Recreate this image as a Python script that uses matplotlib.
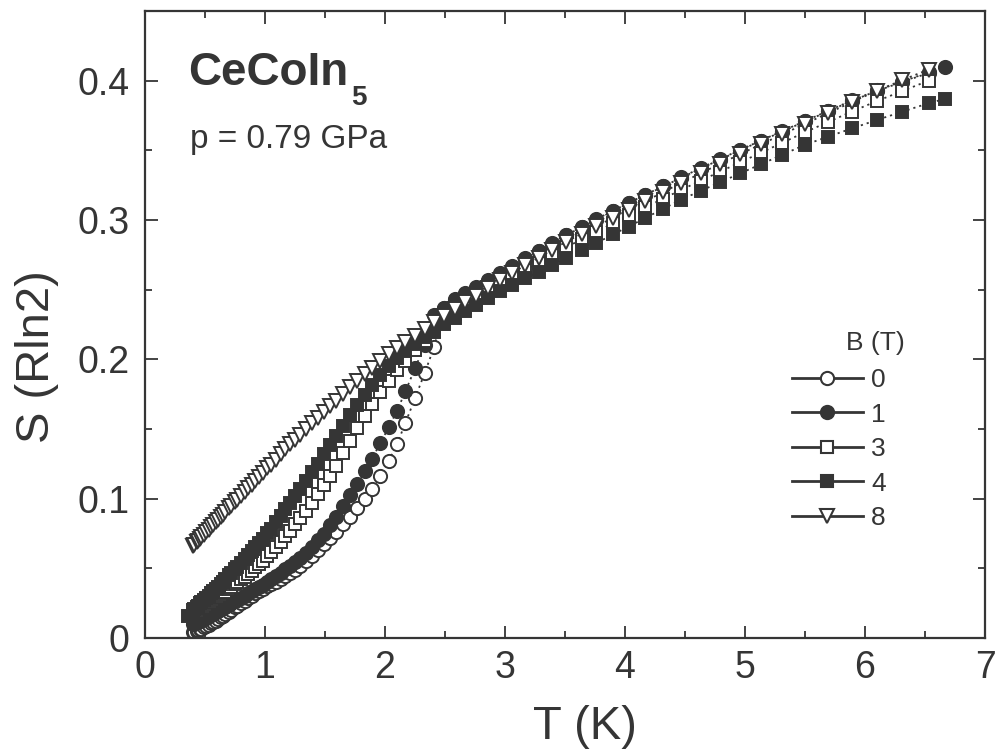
import matplotlib
matplotlib.use("Agg")
import matplotlib.pyplot as plt
from matplotlib.lines import Line2D

plt.rcParams['font.family'] = ['Liberation Sans', 'DejaVu Sans']

# temperature grid (K) shared by the curves
T = [0.40, 0.41, 0.43, 0.44, 0.46, 0.47, 0.49, 0.51, 0.53, 0.55, 0.57, 0.59, 0.61, 0.63,
     0.65, 0.67, 0.70, 0.72, 0.75, 0.77, 0.80, 0.83, 0.86, 0.89, 0.92, 0.95, 0.98, 1.02,
     1.05, 1.09, 1.13, 1.17, 1.21, 1.25, 1.29, 1.34, 1.39, 1.44, 1.49, 1.54, 1.59, 1.65,
     1.71, 1.77, 1.83, 1.89, 1.96, 2.03, 2.10, 2.17, 2.25, 2.33, 2.41, 2.49, 2.58, 2.67,
     2.76, 2.86, 2.96, 3.06, 3.17, 3.28, 3.39, 3.51, 3.64, 3.76, 3.90, 4.03, 4.17, 4.32,
     4.47, 4.63, 4.79, 4.96, 5.13, 5.31, 5.50, 5.69, 5.89, 6.10, 6.31, 6.53]
T_B0 = T
T_B1 = T + [6.67]
T_B3 = T
T_B4 = [0.36] + T + [6.67]
T_B8 = T

# entropy S (R ln2)
S_B0 = [0.0040, 0.0044, 0.0052, 0.0056, 0.0064, 0.0068, 0.0076, 0.0085, 0.0095, 0.0105,
        0.0115, 0.0125, 0.0136, 0.0148, 0.0160, 0.0172, 0.0190, 0.0202, 0.0220, 0.0232,
        0.0250, 0.0268, 0.0286, 0.0304, 0.0320, 0.0335, 0.0350, 0.0370, 0.0385, 0.0405,
        0.0425, 0.0445, 0.0466, 0.0490, 0.0514, 0.0552, 0.0592, 0.0632, 0.0672, 0.0716,
        0.0761, 0.0815, 0.0870, 0.0930, 0.0996, 0.1068, 0.1164, 0.1271, 0.1390, 0.1544,
        0.1720, 0.1900, 0.2090, 0.2365, 0.2425, 0.2470, 0.2515, 0.2565, 0.2615, 0.2665,
        0.2720, 0.2775, 0.2830, 0.2890, 0.2950, 0.3003, 0.3063, 0.3120, 0.3178, 0.3241,
        0.3304, 0.3369, 0.3433, 0.3501, 0.3566, 0.3635, 0.3707, 0.3779, 0.3855, 0.3927,
        0.3990, 0.4055]
S_B1 = [0.0100, 0.0104, 0.0112, 0.0116, 0.0124, 0.0128, 0.0136, 0.0145, 0.0155, 0.0165,
        0.0175, 0.0185, 0.0195, 0.0205, 0.0215, 0.0225, 0.0240, 0.0250, 0.0265, 0.0275,
        0.0290, 0.0305, 0.0320, 0.0335, 0.0350, 0.0365, 0.0380, 0.0402, 0.0420, 0.0444,
        0.0468, 0.0492, 0.0517, 0.0545, 0.0573, 0.0612, 0.0652, 0.0700, 0.0750, 0.0808,
        0.0868, 0.0945, 0.1024, 0.1108, 0.1195, 0.1285, 0.1396, 0.1511, 0.1630, 0.1770,
        0.1935, 0.2100, 0.2320, 0.2370, 0.2430, 0.2475, 0.2520, 0.2570, 0.2620, 0.2670,
        0.2725, 0.2780, 0.2835, 0.2894, 0.2953, 0.3006, 0.3066, 0.3123, 0.3181, 0.3244,
        0.3307, 0.3372, 0.3436, 0.3504, 0.3569, 0.3638, 0.3710, 0.3782, 0.3858, 0.3930,
        0.3993, 0.4060, 0.4100]
S_B3 = [0.0170, 0.0176, 0.0188, 0.0194, 0.0206, 0.0212, 0.0224, 0.0236, 0.0248, 0.0260,
        0.0272, 0.0284, 0.0296, 0.0308, 0.0320, 0.0332, 0.0350, 0.0364, 0.0385, 0.0399,
        0.0420, 0.0441, 0.0462, 0.0483, 0.0506, 0.0530, 0.0554, 0.0588, 0.0615, 0.0651,
        0.0690, 0.0730, 0.0771, 0.0815, 0.0859, 0.0914, 0.0969, 0.1032, 0.1097, 0.1166,
        0.1236, 0.1325, 0.1415, 0.1505, 0.1592, 0.1676, 0.1762, 0.1843, 0.1920, 0.1990,
        0.2065, 0.2134, 0.2198, 0.2262, 0.2326, 0.2379, 0.2428, 0.2483, 0.2538, 0.2589,
        0.2642, 0.2694, 0.2747, 0.2804, 0.2862, 0.2914, 0.2976, 0.3033, 0.3091, 0.3154,
        0.3217, 0.3282, 0.3346, 0.3414, 0.3482, 0.3554, 0.3630, 0.3702, 0.3778, 0.3854,
        0.3925, 0.4000]
S_B4 = [0.0160,
        0.0200, 0.0208, 0.0224, 0.0232, 0.0248, 0.0256, 0.0272, 0.0288, 0.0304, 0.0320,
        0.0336, 0.0352, 0.0369, 0.0387, 0.0405, 0.0423, 0.0450, 0.0468, 0.0495, 0.0513,
        0.0540, 0.0567, 0.0594, 0.0621, 0.0650, 0.0680, 0.0710, 0.0752, 0.0785, 0.0829,
        0.0876, 0.0924, 0.0972, 0.1020, 0.1068, 0.1128, 0.1188, 0.1252, 0.1317, 0.1382,
        0.1447, 0.1525, 0.1602, 0.1674, 0.1746, 0.1818, 0.1890, 0.1954, 0.2010, 0.2059,
        0.2110, 0.2158, 0.2206, 0.2250, 0.2299, 0.2345, 0.2390, 0.2440, 0.2490, 0.2535,
        0.2581, 0.2628, 0.2674, 0.2724, 0.2782, 0.2834, 0.2896, 0.2953, 0.3015, 0.3081,
        0.3147, 0.3209, 0.3270, 0.3335, 0.3399, 0.3468, 0.3540, 0.3597, 0.3657, 0.3718,
        0.3777, 0.3838, 0.3870]
S_B8 = [0.0660, 0.0669, 0.0687, 0.0696, 0.0714, 0.0723, 0.0741, 0.0759, 0.0777, 0.0795,
        0.0813, 0.0831, 0.0849, 0.0867, 0.0885, 0.0903, 0.0930, 0.0948, 0.0975, 0.0993,
        0.1020, 0.1047, 0.1074, 0.1101, 0.1128, 0.1155, 0.1182, 0.1218, 0.1245, 0.1281,
        0.1317, 0.1353, 0.1389, 0.1423, 0.1457, 0.1499, 0.1542, 0.1582, 0.1622, 0.1662,
        0.1702, 0.1750, 0.1798, 0.1846, 0.1893, 0.1938, 0.1990, 0.2038, 0.2080, 0.2122,
        0.2170, 0.2218, 0.2265, 0.2310, 0.2359, 0.2409, 0.2458, 0.2513, 0.2568, 0.2620,
        0.2675, 0.2730, 0.2785, 0.2844, 0.2902, 0.2954, 0.3016, 0.3073, 0.3135, 0.3201,
        0.3267, 0.3335, 0.3402, 0.3473, 0.3542, 0.3614, 0.3690, 0.3766, 0.3846, 0.3928,
        0.4004, 0.4080]

fields = ['0', '1', '3', '4', '8']
c = '#353535'

fig = plt.figure(figsize=(9.99, 7.51), dpi=100)
ax = fig.add_axes([145/999, 113/751, 840/999, 627/751])

# (T, S, marker, face colour)
series = [(T_B0, S_B0, 'o', 'white'),
          (T_B1, S_B1, 'o', c),
          (T_B3, S_B3, 's', 'white'),
          (T_B4, S_B4, 's', c),
          (T_B8, S_B8, 'v', 'white')]
ms = {'o': 9.5, 's': 9.0, 'v': 10.5}

handles = []
for (tt, ss, m, fc), lab in zip(series, fields):
    ax.plot(tt, ss, ls=(0, (1.2, 2.2)), lw=1.3, color=c, marker=m, ms=ms[m],
            mfc=fc, mec=c, mew=1.4)
    handles.append(Line2D([], [], color=c, lw=2, marker=m, ms=ms[m], mfc=fc,
                          mec=c, mew=1.5, label=lab))

ax.set_xlim(0, 7)
ax.set_ylim(0, 0.45)
ax.set_xticks(range(8))
ax.set_xticklabels([str(i) for i in range(8)])
ax.set_xticks([0.5, 1.5, 2.5, 3.5, 4.5, 5.5, 6.5], minor=True)
ax.set_yticks([0, 0.1, 0.2, 0.3, 0.4])
ax.set_yticklabels(['0', '0.1', '0.2', '0.3', '0.4'])
ax.set_yticks([0.05, 0.15, 0.25, 0.35], minor=True)
ax.tick_params(which='both', direction='in', top=True, right=True, color=c,
               labelcolor=c, labelsize=27)
ax.tick_params(which='major', length=9, width=1.3)
ax.tick_params(which='minor', length=5, width=1.3)
ax.tick_params(axis='x', pad=9)
ax.tick_params(axis='y', pad=11)
for sp in ax.spines.values():
    sp.set_linewidth(1.6)
    sp.set_color(c)

fig.text(585/999, 1 - 727/751, 'T (K)', ha='center', va='center', fontsize=34, color=c)
fig.text(37/999, 1 - 357/751, 'S (Rln2)', ha='center', va='center', rotation=90,
         fontsize=34, color=c)

t1 = ax.text(0.0512, 0.882, 'CeCoIn', transform=ax.transAxes, fontsize=33,
             fontweight='bold', color=c, va='baseline', ha='left')
ax.annotate('5', xy=(1, 0), xycoords=t1, xytext=(2, -7), textcoords='offset points',
            fontsize=20, fontweight='bold', color=c, va='baseline', ha='left')
ax.text(0.0536, 0.7815, 'p = 0.79 GPa', transform=ax.transAxes, fontsize=24,
        color=c, va='baseline', ha='left')

ax.text(0.869, 0.4705, 'B (T)', transform=ax.transAxes, fontsize=19, color=c,
        ha='center', va='center')
ax.legend(handles=handles, loc='upper left', bbox_to_anchor=(0.770, 0.4306),
          frameon=False, borderpad=0, borderaxespad=0, handlelength=2.7,
          handletextpad=0.3, labelspacing=0.4, fontsize=19, labelcolor=c)

fig.savefig('out.png', dpi=100)
